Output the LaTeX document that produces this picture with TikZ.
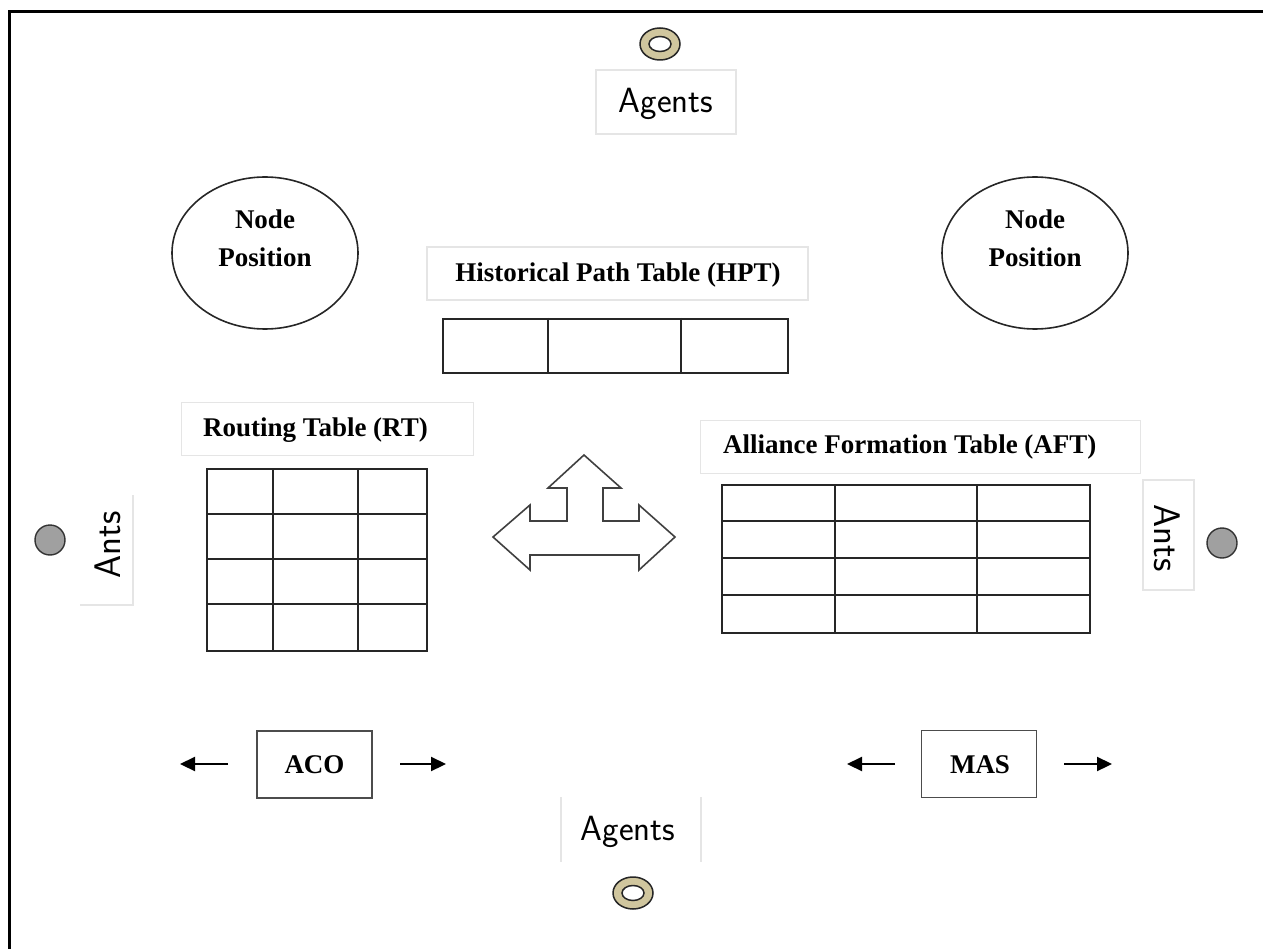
\documentclass[tikz,border=0pt]{standalone}
\usepackage{fontspec}
\setmainfont{Liberation Serif}
\usetikzlibrary{shapes.geometric,arrows.meta}
\definecolor{donut}{RGB}{208,198,158}
\definecolor{ball}{RGB}{160,160,160}
\begin{document}
\begin{tikzpicture}[x=1pt,y=-1pt,
  lblbox/.style={draw=black!10, line width=1.2pt, inner sep=0pt},
  boldtxt/.style={font=\fontsize{27}{38}\selectfont\bfseries, inner sep=0pt},
  agtxt/.style={font=\fontsize{35}{40}\selectfont\sffamily, inner sep=0pt},
  anttxt/.style={font=\fontsize{37}{40}\selectfont\sffamily, inner sep=0pt},
  tbl/.style={draw=black!85, line width=1.8pt},
  oval/.style={ellipse, draw=black!85, line width=1.6pt, minimum width=186, minimum height=152, inner sep=0pt},
  boxed/.style={draw=black!70, line width=1.8pt, minimum width=115, minimum height=67, inner sep=0pt},
  arr/.style={line width=2.2pt, -{Triangle[length=15pt,width=14pt]}},
  donutouter/.style={ellipse, draw=black!85, fill=donut, line width=1.5pt, minimum width=40, minimum height=32, inner sep=0pt},
  donutinner/.style={ellipse, draw=black!85, fill=white, line width=1.5pt, minimum width=22, minimum height=15, inner sep=0pt},
  ballst/.style={circle, draw=black!80, fill=ball, line width=1.4pt, minimum size=30, inner sep=0pt}]
\useasboundingbox (0,0) rectangle (1263,949);
% frame
\draw[line width=3pt] (9,949) -- (9,12) -- (1263,12);

% top agents
\node[donutouter] (dtop) at (660,44) {};
\node[donutinner] (dtopin) at (660,44) {};
\node[lblbox, minimum width=140, minimum height=64] (agtopbox) at (666,102) {};
\node[agtxt] (agtop) at (666,104) {Agents};

% bottom agents
\draw[draw=black!10, line width=1.2pt] (561,797) -- (561,862) (701,797) -- (701,862);
\coordinate (agbotbox) at (631,830);
\node[agtxt] (agbot) at (628,832) {Agents};
\node[donutouter] (dbot) at (633,893) {};
\node[donutinner] (dbotin) at (633,893) {};

% left ants
\node[ballst] (ballL) at (50,540) {};
\draw[draw=black!10, line width=1.2pt] (133,495) -- (133,605) -- (80,605);
\node[anttxt, rotate=90] (antsL) at (108,545) {Ants};

% right ants
\node[lblbox, minimum width=51, minimum height=110] (antsRbox) at (1168.5,535) {};
\node[anttxt, rotate=-90] (antsR) at (1167,538) {Ants};
\node[ballst] (ballR) at (1222,543) {};

% node position ellipses
\node[oval] (npL) at (265,253) {};
\node[boldtxt, align=center] (npLt) at (265,238) {Node\\Position};
\node[oval] (npR) at (1035,253) {};
\node[boldtxt, align=center] (npRt) at (1035,238) {Node\\Position};

% HPT
\node[lblbox, minimum width=381, minimum height=53] (hptbox) at (617.5,273.5) {};
\node[boldtxt] (hpttxt) at (618,275) {Historical Path Table (HPT)};
\node[tbl, minimum width=345, minimum height=54, inner sep=0pt, anchor=north west] (hpt) at (442,318) {};
\draw[tbl] (548,318) -- (548,372) (681,318) -- (681,372);

% RT
\node[lblbox, minimum width=292, minimum height=53, anchor=north west] (rtbox) at (181,402) {};
\node[boldtxt, anchor=west] (rttxt) at (203,430) {Routing Table (RT)};
\node[tbl, minimum width=220, minimum height=182, anchor=north west] (rt) at (206,468) {};
\draw[tbl] (273,468) -- (273,650) (358,468) -- (358,650)
  (206,514) -- (426,514) (206,559) -- (426,559) (206,604) -- (426,604);

% AFT
\node[lblbox, minimum width=440, minimum height=53, anchor=north west] (aftbox) at (700,420) {};
\node[boldtxt, anchor=west] (afttxt) at (723,447) {Alliance Formation Table (AFT)};
\node[tbl, minimum width=368, minimum height=148, anchor=north west] (aft) at (721,484) {};
\draw[tbl] (835,484) -- (835,632) (977,484) -- (977,632)
  (721,521) -- (1089,521) (721,558) -- (1089,558) (721,595) -- (1089,595);

% triple arrow
\draw[draw=black!75, line width=1.6pt, line join=miter]
  (584,455) -- (621,488) -- (603,488) -- (603,521) -- (639,521) -- (639,505) -- (675,537)
  -- (639,570) -- (639,555) -- (530,555) -- (530,570) -- (493,537) -- (530,505)
  -- (530,521) -- (567,521) -- (567,488) -- (548,488) -- cycle;

% ACO
\node[boxed] (aco) at (314.5,764.5) {};
\node[boldtxt] (acotxt) at (314.5,765) {ACO};
\coordinate (acoLa) at (228,764); \coordinate (acoLb) at (180,764);
\coordinate (acoRa) at (400,764); \coordinate (acoRb) at (446,764);
\draw[arr] (acoLa) -- (acoLb);
\draw[arr] (acoRa) -- (acoRb);

% MAS
\node[boxed] (mas) at (979,764) {};
\node[boldtxt] (mastxt) at (980,765) {MAS};
\coordinate (masLa) at (895,764); \coordinate (masLb) at (847,764);
\coordinate (masRa) at (1064,764); \coordinate (masRb) at (1112,764);
\draw[arr] (masLa) -- (masLb);
\draw[arr] (masRa) -- (masRb);
\end{tikzpicture}
\end{document}
